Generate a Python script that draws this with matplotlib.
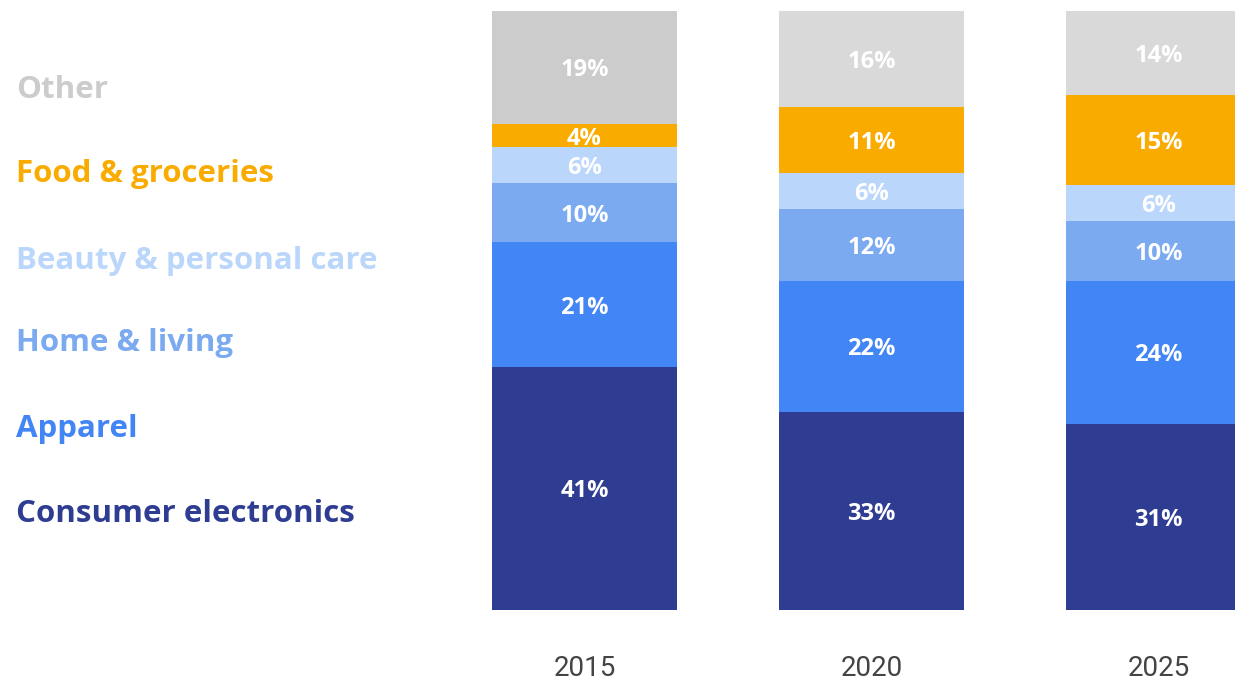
import matplotlib
matplotlib.use("Agg")
import matplotlib.pyplot as plt
import numpy as np

years = ["2015", "2020", "2025"]
categories = ["Consumer electronics", "Apparel", "Home & living",
              "Beauty & personal care", "Food & groceries", "Other"]
consumer_electronics = [41, 33, 31]
apparel = [21, 22, 24]
home_living = [10, 12, 10]
beauty_personal = [6, 6, 6]
food_groceries = [4, 11, 15]
other = [19, 16, 14]

series = [consumer_electronics, apparel, home_living, beauty_personal, food_groceries, other]
colors = ["#2E3D92", "#4285F4", "#7BAAF0", "#BBD6FB", "#F9AB00", "#D9D9D9"]
other_colors = ["#CCCCCC", "#D9D9D9", "#D9D9D9"]
legend_colors = ["#2E3D92", "#4285F4", "#7BAAF0", "#BBD6FB", "#F9AB00", "#CCCCCC"]

plt.rcParams['font.family'] = ['Open Sans', 'DejaVu Sans']

W, H = 1235, 681
fig = plt.figure(figsize=(W / 100, H / 100), dpi=100)
ax = fig.add_axes([0, 71 / H, 1, 599 / H])

x = np.arange(len(years))
data = np.array(series, dtype=float)
totals = data.sum(axis=0)
shares = data / totals * 100
bottom = np.zeros(len(years))
for i, (vals, sh) in enumerate(zip(series, shares)):
    cols = other_colors if i == len(series) - 1 else [colors[i]] * len(years)
    ax.bar(x, sh, bottom=bottom, width=185 / 287, color=cols, linewidth=0)
    for j in range(len(years)):
        ax.text(x[j], bottom[j] + sh[j] / 2, f"{vals[j]}%", ha="center", va="center_baseline",
                color="white", fontsize=17, fontweight="bold")
    bottom += sh

ax.set_xlim(-584.5 / 287, (W - 584.5) / 287)
ax.set_ylim(0, 100)
ax.axis("off")

for j, yr in enumerate(years):
    ax.annotate(yr, xy=(x[j], 0), xycoords="data", xytext=(0, -56), textcoords="offset pixels",
                ha="center", va="center_baseline", fontsize=20, color="#444444",
                family=["Roboto", "DejaVu Sans"])

legend_y = [510, 425, 340, 257, 171, 87]
for name, col, yy in zip(categories, legend_colors, legend_y):
    fig.text(16 / W, 1 - yy / H, name, ha="left", va="center_baseline", color=col,
             fontsize=22.5, fontweight="bold")

fig.savefig("out.png", dpi=100)
